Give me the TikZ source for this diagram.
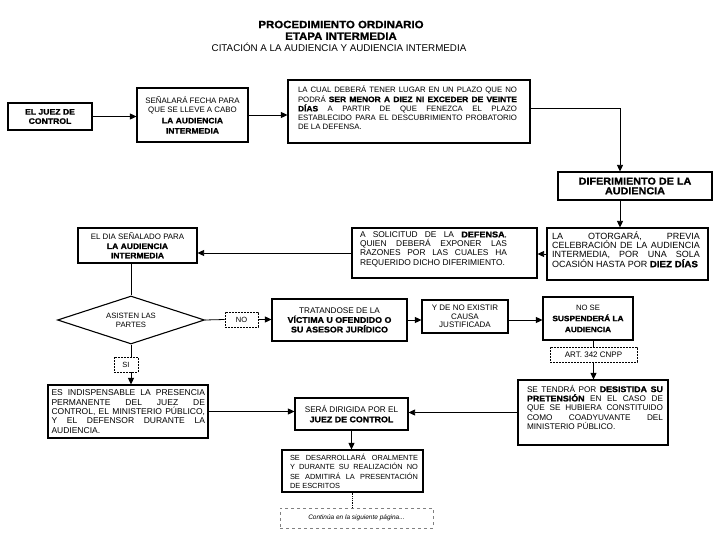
\documentclass[tikz,border=0pt]{standalone}
\usepackage{fontspec}
\setmainfont{Liberation Sans}[BoldFeatures={FakeStretch=1.08,FakeBold=1.2}]
\usetikzlibrary{arrows.meta,shapes.geometric}
\newcommand{\jb}[7]{\parbox[c][#2pt][t]{#1pt}{\fontsize{#6}{9.3}\selectfont\hyphenpenalty=10000\vspace*{#5pt}\leftskip=#3pt\rightskip=#4pt\relax #7\par}}
\tikzset{
  box/.style={draw, line width=1.1pt, inner sep=0pt, align=center},
  sbox/.style={draw, line width=0.8pt, dash pattern=on 2pt off 1pt, inner sep=0pt, align=center, font=\fontsize{7.5}{9}\selectfont},
  arr/.style={line width=0.8pt, -{Triangle[length=6.5pt,width=6pt]}},
  ln/.style={line width=0.8pt},
}
\begin{document}
\begin{tikzpicture}[x=1pt,y=-1pt]
\useasboundingbox (0,0) rectangle (720,540);
\fill[white] (0,0) rectangle (720,540);
% titles
\node[font=\bfseries\fontsize{10.6}{12}\selectfont] (t1) at (341,24.5) {PROCEDIMIENTO ORDINARIO};
\node[font=\bfseries\fontsize{10.6}{12}\selectfont] (t2) at (341,36.2) {ETAPA INTERMEDIA};
\node[font=\fontsize{9.8}{11}\selectfont] (t3) at (339,47) {CITACIÓN A LA AUDIENCIA Y AUDIENCIA INTERMEDIA};
% boxes
\node[box, minimum width=84, minimum height=27, font=\bfseries\fontsize{8}{9.3}\selectfont] (b1) at (50,116.5) {EL JUEZ DE\\CONTROL};
\node[box, minimum width=111, minimum height=54, font=\fontsize{7.9}{9.3}\selectfont] (b2) at (192.5,115) {SEÑALARÁ FECHA PARA\\QUE SE LLEVE A CABO\\[1.5pt]\textbf{LA AUDIENCIA}\\[1pt]\textbf{INTERMEDIA}};
\node[box] (b3) at (409,111.5) {\jb{242}{63}{10}{13}{6}{7.8}{LA CUAL DEBERÁ TENER LUGAR EN UN PLAZO QUE NO\linebreak PODRÁ \textbf{SER MENOR A DIEZ NI EXCEDER DE VEINTE}\linebreak \textbf{DÍAS} A PARTIR DE QUE FENEZCA EL PLAZO\linebreak ESTABLECIDO PARA EL DESCUBRIMIENTO PROBATORIO\linebreak DE LA DEFENSA.}};
\node[box, minimum width=154, minimum height=28, font=\bfseries\fontsize{10}{9.8}\selectfont] (b4) at (635,186) {DIFERIMIENTO DE LA\\AUDIENCIA};
\node[box] (b5) at (627.5,254) {\jb{161}{52}{5}{8}{3.5}{9.0}{LA OTORGARÁ, PREVIA\linebreak CELEBRACIÓN DE LA AUDIENCIA\linebreak INTERMEDIA, POR UNA SOLA\linebreak OCASIÓN HASTA POR \textbf{DIEZ DÍAS}}};
\node[box] (b6) at (444.5,253) {\jb{185}{50}{8}{30}{3.5}{8.4}{A SOLICITUD DE LA \textbf{DEFENSA},\linebreak QUIEN DEBERÁ EXPONER LAS\linebreak RAZONES POR LAS CUALES HA\linebreak REQUERIDO DICHO DIFERIMIENTO.}};
\node[box, minimum width=119, minimum height=35, font=\fontsize{7.9}{9.3}\selectfont] (b7) at (137.5,245.5) {EL DIA SEÑALADO PARA\\\textbf{LA AUDIENCIA}\\\textbf{INTERMEDIA}};
\node[draw, line width=1.1pt, diamond, aspect=3, inner sep=0pt, minimum width=147, minimum height=48, font=\fontsize{7.7}{9.3}\selectfont, align=center] (d) at (131,320) {ASISTEN LAS\\PARTES};
\node[sbox, minimum width=33, minimum height=15] (no) at (241.5,319.5) {NO};
\node[box, minimum width=135, minimum height=42, font=\fontsize{8.2}{9.6}\selectfont] (b10) at (339.5,320) {TRATANDOSE DE LA\\\textbf{VÍCTIMA U OFENDIDO O}\\\textbf{SU ASESOR JURÍDICO}};
\node[box, minimum width=86, minimum height=33, font=\fontsize{8}{8.4}\selectfont] (b11) at (465,316.5) {Y DE NO EXISTIR\\CAUSA\\JUSTIFICADA};
\node[box, minimum width=90, minimum height=43, font=\fontsize{7.7}{11}\selectfont] (b12) at (588,318.5) {NO SE\\\textbf{SUSPENDERÁ LA}\\\textbf{AUDIENCIA}};
\node[sbox, minimum width=87, minimum height=15, font=\fontsize{8}{9}\selectfont] (art) at (593.5,354.5) {ART. 342 CNPP};
\node[box] (b14) at (593,412.5) {\jb{150}{65}{9}{5}{5}{8.2}{SE TENDRÁ POR \textbf{DESISTIDA SU}\linebreak \textbf{PRETENSIÓN} EN EL CASO DE\linebreak QUE SE HUBIERA CONSTITUIDO\linebreak COMO COADYUVANTE DEL\linebreak MINISTERIO PÚBLICO.}};
\node[box, minimum width=113, minimum height=32, font=\fontsize{8.2}{9.5}\selectfont] (b15) at (351.5,414) {SERÁ DIRIGIDA POR EL\\\textbf{JUEZ DE CONTROL}};
\node[sbox, minimum width=24, minimum height=15] (si) at (126,364.5) {SI};
\node[box] (b16) at (128,411.5) {\jb{160}{53}{3.5}{3}{5}{8.5}{ES INDISPENSABLE LA PRESENCIA\linebreak PERMANENTE DEL JUEZ DE\linebreak CONTROL, EL MINISTERIO PÚBLICO,\linebreak Y EL DEFENSOR DURANTE LA\linebreak AUDIENCIA.}};
\node[box] (b17) at (352.5,471) {\jb{141}{42}{8}{5}{4}{7.4}{SE DESARROLLARÁ ORALMENTE\linebreak Y DURANTE SU REALIZACIÓN NO\linebreak SE ADMITIRÁ LA PRESENTACIÓN\linebreak DE ESCRITOS}};
\node[draw=gray, dashed, line width=0.6pt, minimum width=153, minimum height=20, inner sep=0pt, font=\fontsize{6.5}{7}\selectfont\itshape] (cont) at (356.5,518) {Continúa en la siguiente página...};
% connectors
\draw[arr] (b1.east) -- (b1.east -| b2.west);
\draw[arr] (b2.east) -- (b2.east -| b3.west);
\draw[arr] ([yshift=3.5pt]b3.east) -| ([xshift=-15pt]b4.north);
\draw[arr] ([xshift=-15pt]b4.south) -- ([xshift=-15pt]b4.south |- b5.north);
\draw[arr] (b5.west) -- (b5.west -| b6.east);
\draw[arr] (b6.west) -- (b6.west -| b7.east);
\draw[ln] (d.north |- b7.south) -- (d.north);
\draw[ln] (d.east) -- (no.west);
\draw[arr] (no.east) -- (no.east -| b10.west);
\draw[arr] (b10.east) -- (b10.east -| b11.west);
\draw[arr] (b10.east -| b11.east) -- (b10.east -| b12.west);
\draw[ln] (art.north |- b12.south) -- (art.north);
\draw[arr] (art.south) -- (art.south |- b14.north);
\draw[arr] (b14.west) -- (b14.west -| b15.east);
\draw[ln] (d.south) -- (d.south |- si.north);
\draw[arr] (d.south |- si.south) -- (d.south |- b16.north);
\draw[arr] (b16.east) -- (b16.east -| b15.west);
\draw[arr] (b15.south) -- (b15.south |- b17.north);
\draw[ln, densely dotted] (b17.south) -- (b17.south |- cont.north);
\end{tikzpicture}
\end{document}
